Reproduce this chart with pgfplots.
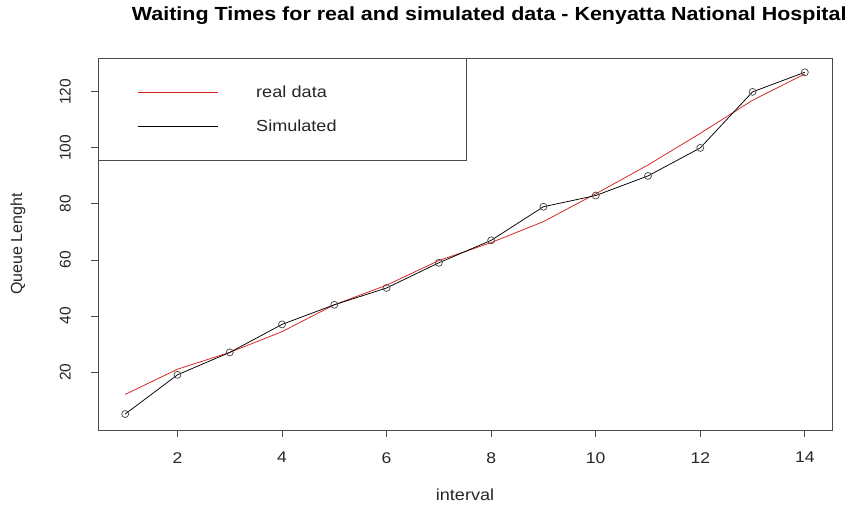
\documentclass[border=0pt]{standalone}
\usepackage{pgfplots}
\pgfplotsset{compat=1.18}
\usepackage{fontspec}
\setmainfont{Liberation Sans}[FakeStretch=1.13]
\newfontfamily\plainfont{Liberation Sans}
\definecolor{rred}{rgb}{0.84,0.12,0.12}
\definecolor{boxgray}{rgb}{0.30,0.30,0.30}
\begin{document}
\begin{tikzpicture}[x=1bp,y=1bp]
\useasboundingbox (0,0) rectangle (859,507);
\begin{axis}[
  at={(98bp,77bp)}, anchor=south west,
  scale only axis, width=734bp, height=372bp,
  xmin=0.48, xmax=14.52, ymin=-0.7, ymax=132.1,
  xtick={2,4,...,14}, ytick={20,40,...,120},
  tick align=outside, xtick pos=left, ytick pos=left,
  major tick length=7bp,
  axis line style={boxgray, line width=0.9bp},
  every tick/.style={boxgray, line width=0.9bp},
  ticklabel style={text=black!85},
  /pgf/number format/assume math mode=true,
  xticklabel style={font=\fontsize{15.5bp}{18bp}\selectfont, anchor=north, inner sep=0pt},
  xticklabel shift=15bp,
  yticklabel style={font=\plainfont\fontsize{15.5bp}{18bp}\selectfont, rotate=90, anchor=south, inner sep=0pt},
  yticklabel shift=20bp,
  title={Waiting Times for real and simulated data - Kenyatta National Hospital},
  title style={font=\bfseries\fontsize{19bp}{22bp}\selectfont, at={(axis description cs:0.533,1.086)}, anchor=base, inner sep=0pt},
  xlabel={interval},
  xlabel style={font=\fontsize{16bp}{18bp}\selectfont, at={(axis description cs:0.5,-0.175)}, anchor=center, inner sep=0pt, text=black!85},
  ylabel={Queue Lenght},
  ylabel style={font=\plainfont\fontsize{16bp}{18bp}\selectfont, at={(axis description cs:-0.109,0.5)}, anchor=center, inner sep=0pt, text=black!85},
  legend image code/.code={\draw[#1] (0bp,0bp) -- (80bp,0bp);},
  legend cell align=left,
  legend style={at={(axis description cs:0,1)}, anchor=north west,
    draw=boxgray, line width=0.9bp, fill=white,
    inner xsep=39bp, inner ysep=17bp, column sep=38bp, row sep=0bp,
    font=\fontsize{16bp}{18bp}\selectfont,
    nodes={inner sep=0pt, minimum height=34bp, text width=171bp, anchor=west, text=black!85},
  },
]
\addplot[rred, line width=0.75bp] coordinates {
(1,12) (2,21) (3,27) (4,34.4) (5,44) (6,51) (7,59.8) (8,66.2) (9,73.7) (10,83.6) (11,93.9) (12,105.2) (13,117) (14,126.4)
};
\addlegendentry{real data}
\addplot[black, line width=0.75bp, mark=o, mark size=3.5bp, mark options={line width=0.75bp, boxgray}] coordinates {
(1,5) (2,19) (3,27) (4,37) (5,44) (6,50) (7,59) (8,67) (9,79) (10,83) (11,90) (12,100) (13,120) (14,127)
};
\addlegendentry{Simulated}
\end{axis}
\end{tikzpicture}
\end{document}
